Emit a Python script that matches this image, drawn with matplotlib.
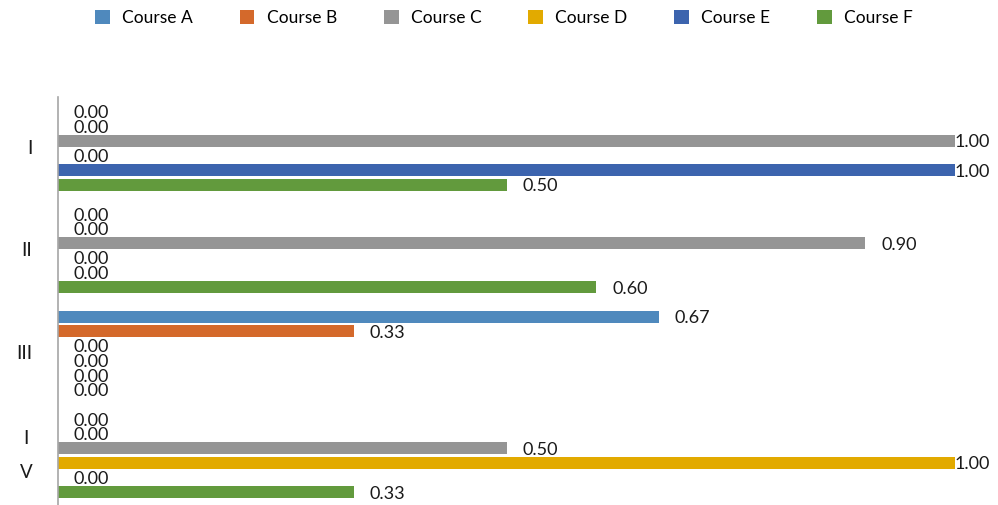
import matplotlib.pyplot as plt
import numpy as np

plt.rcParams['font.family'] = ['Lato', 'DejaVu Sans']

categories = ['I', 'II', 'III', 'I\nV']
courses = ['Course A', 'Course B', 'Course C', 'Course D', 'Course E', 'Course F']
values = {
    'Course A': [0.00, 0.00, 0.67, 0.00],
    'Course B': [0.00, 0.00, 0.33, 0.00],
    'Course C': [1.00, 0.90, 0.00, 0.50],
    'Course D': [0.00, 0.00, 0.00, 1.00],
    'Course E': [1.00, 0.00, 0.00, 0.00],
    'Course F': [0.50, 0.60, 0.00, 0.33],
}
colors = ['#4F89BD', '#D4692B', '#959595', '#E2AA00', '#3C64AE', '#629A3D']

W, H = 998, 505
fig = plt.figure(figsize=(W / 100, H / 100), dpi=100)
ax = fig.add_axes([58 / W, -2 / H, 897 / W, 410 / H])

n = len(courses)
step = n + 1  # one empty slot between groups
centers = np.arange(len(categories)) * step

for j, (name, c) in enumerate(zip(courses, colors)):
    y = centers + (j - (n - 1) / 2)
    v = np.array(values[name])
    ax.barh(y, v, height=0.82, color=c, label=name)
    for yy, vv in zip(y, v):
        # full-length bars keep their label right at the bar end
        off = 0 if vv >= 1.0 else 11.5
        ax.annotate(f'{vv:.2f}', (vv, yy), xytext=(off, -1),
                    textcoords='offset points', ha='left', va='center',
                    fontsize=13, color='#1a1a1a', annotation_clip=False)

ax.set_xlim(0, 1)
ax.set_ylim(centers[-1] + step / 2, centers[0] - step / 2)
ax.set_xticks([])
ax.set_yticks(centers)
ax.set_yticklabels(categories, fontsize=13.5, color='#1a1a1a', linespacing=2.25,
                   multialignment='center')
for lbl in ax.get_yticklabels():
    lbl.set_va('center')
ax.tick_params(axis='y', length=0, pad=18.5)
for s in ['top', 'right', 'bottom']:
    ax.spines[s].set_visible(False)
ax.spines['left'].set_color('#a6a6a6')
ax.spines['left'].set_linewidth(1.2)

fig.legend(loc='upper center', bbox_to_anchor=(0.505, 0.995), ncol=6, frameon=False,
           fontsize=12.5, handlelength=0.85, handleheight=0.85,
           handletextpad=0.7, columnspacing=2.7, borderaxespad=0.05)

plt.savefig('out.png', dpi=100)
